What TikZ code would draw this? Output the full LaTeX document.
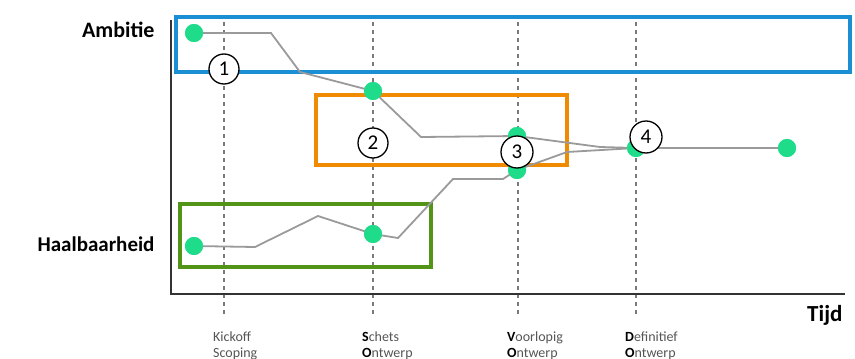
\documentclass[tikz,border=0pt]{standalone}
\usepackage{fontspec}
\setmainfont{Carlito}
\begin{document}
\begin{tikzpicture}[x=1pt,y=-1pt,
  dot/.style={circle,fill=dotgreen,inner sep=0pt,minimum size=18pt},
  num/.style={circle,draw=black,line width=1.3pt,fill=white,inner sep=0pt,minimum size=30pt,font=\fontsize{21}{21}\selectfont},
  path/.style={draw=linegray,line width=1.8pt},
  phase/.style={draw=dashgray,line width=1.4pt,dash pattern=on 4pt off 4pt},
  axlabel/.style={font=\fontsize{22}{22}\selectfont\bfseries},
  tick/.style={align=left,anchor=base west,text=textgray,font=\fontsize{14}{16}\selectfont,inner sep=0pt}]
\definecolor{dotgreen}{HTML}{1EDC8A}
\definecolor{linegray}{HTML}{9A9A9A}
\definecolor{dashgray}{HTML}{7A7A7A}
\definecolor{textgray}{HTML}{555555}
\definecolor{boxblue}{HTML}{1A8FD4}
\definecolor{boxorange}{HTML}{F08A00}
\definecolor{boxgreen}{HTML}{529418}
\useasboundingbox (0,0) rectangle (855,359);
% phase lines
\foreach \x/\n in {224/p1,373/p2,518/p3,636/p4}{
  \coordinate (\n t) at (\x,22);
  \coordinate (\n b) at (\x,314);
  \draw[phase] (\n t) -- (\n b);
}
% axes
\coordinate (org) at (171,294);
\coordinate (ytop) at (171,20);
\coordinate (xend) at (845,294);
\draw[line width=1.2pt,black!80] (ytop) -- (org) -- (xend);
% boxes
\draw[boxblue,line width=4pt] (176,17) rectangle (850,72);
\draw[boxorange,line width=4pt] (316,95) rectangle (567,165);
\draw[boxgreen,line width=4pt] (180,204) rectangle (431,267);
% paths
\node[dot] (a1) at (194,33) {};
\node[dot] (a2) at (373,91) {};
\node[dot] (a3) at (517,136) {};
\node[dot] (h1) at (194,246) {};
\node[dot] (h2) at (373,234) {};
\node[dot] (h3) at (517,170) {};
\node[dot] (d4) at (636,148) {};
\node[dot] (end) at (787,148) {};
\draw[path] (a1.center) -- (271,33) -- (300,72) -- (a2.center) -- (421,137) -- (a3.center) -- (600,147) -- (d4.center) -- (end.center);
\draw[path] (h1.center) -- (255,247) -- (318,216) -- (h2.center) -- (398,238) -- (453,179) -- (503,179) -- (h3.center) -- (567,152) -- (d4.center);
% redraw dots on top
\foreach \n in {a1,a2,a3,h1,h2,h3,d4,end}{\fill[dotgreen] (\n) circle (9pt);}
% numbers
\node[num] (n1) at (224,69) {1};
\node[num] (n2) at (373,143) {2};
\node[num,minimum size=32pt] (n3) at (517,152) {3};
\node[num,minimum size=32pt] (n4) at (646,137) {4};
% labels
\node[axlabel,anchor=east] (amb) at (158,30) {Ambitie};
\node[axlabel,anchor=east,font=\fontsize{21}{21}\selectfont\bfseries] (haal) at (158,244) {Haalbaarheid};
\node[axlabel,anchor=east,font=\fontsize{23}{23}\selectfont\bfseries] (tijd) at (846,315) {Tijd};
\node[tick] (t1) at (213,357) {Kickoff\\Scoping};
\node[tick] (t2) at (362,357) {\textbf{\textcolor{black}{S}}chets\\\textbf{\textcolor{black}{O}}ntwerp};
\node[tick] (t3) at (507,357) {\textbf{\textcolor{black}{V}}oorlopig\\\textbf{\textcolor{black}{O}}ntwerp};
\node[tick] (t4) at (625,357) {\textbf{\textcolor{black}{D}}efinitief\\\textbf{\textcolor{black}{O}}ntwerp};
\end{tikzpicture}
\end{document}
